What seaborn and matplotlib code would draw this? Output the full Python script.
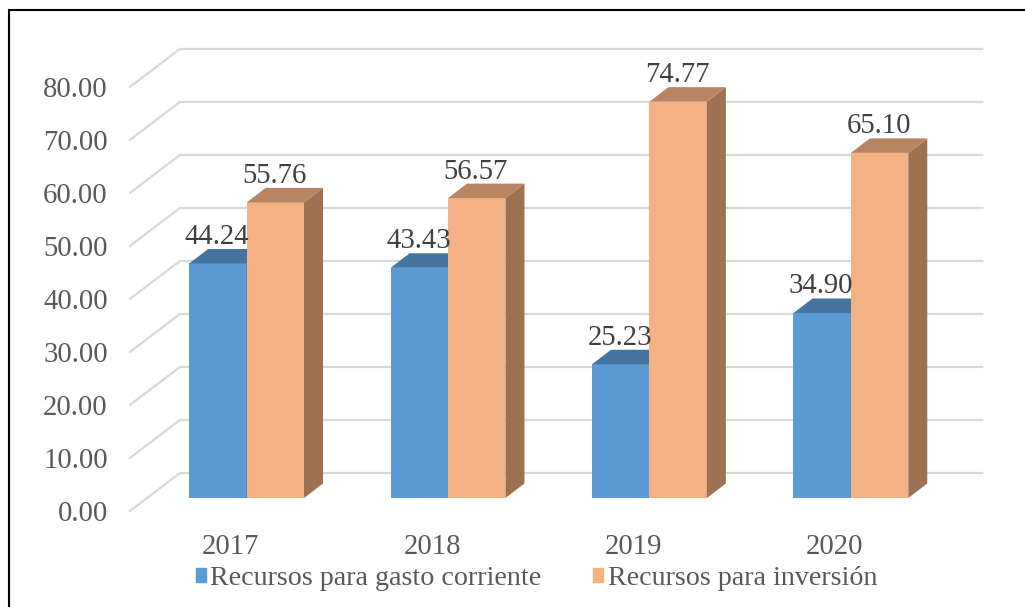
import pandas as pd
import matplotlib.pyplot as plt
import matplotlib.transforms as mtransforms
from matplotlib.patches import Polygon, Rectangle, Patch
from matplotlib.lines import Line2D
import seaborn as sns

# data
years = ['2017', '2018', '2019', '2020']
gasto_corriente = [44.24, 43.43, 25.23, 34.90]
inversion = [55.76, 56.57, 74.77, 65.10]
series = ['Recursos para gasto corriente', 'Recursos para inversión']
y_ticks = [0, 10, 20, 30, 40, 50, 60, 70, 80]

front_colors = ['#5B9BD5', '#F4B183']
top_colors = ['#44749F', '#B98462']
side_colors = ['#3F6C94', '#9C7252']

# fake 3d offsets, in pixels
DEPTH = (19, 14.5)
FLOOR_FRONT = (-17, -13)
WALL = (33, 25)
FS = 20.7

sns.set_theme(style='white')
plt.rcParams['font.family'] = ['Liberation Serif', 'DejaVu Serif']

df = pd.DataFrame({
    'year': years * 2,
    'value': gasto_corriente + inversion,
    'serie': [series[0]] * len(years) + [series[1]] * len(years),
})

fig = plt.figure(figsize=(10.25, 6.07), dpi=100)
ax = fig.add_axes([130 / 1025, 1 - 520 / 607, 853 / 1025, 480 / 607])
sns.barplot(data=df, x='year', y='value', hue='serie', palette=front_colors,
            width=0.57, saturation=1, linewidth=0, legend=False,
            errorbar=None, ax=ax)
ax.set_xlim(-0.579, 3.656)
ax.set_ylim(-4.15, 86.4)
sns.despine(ax=ax, left=True, bottom=True)
ax.set_xlabel('')
ax.set_ylabel('')

# perspective grid: floor edge + back wall
ident = mtransforms.IdentityTransform()
for v in y_ticks:
    bx, by = ax.transData.transform((-0.495, v))
    ex, _ = ax.transData.transform((3.49, v))
    xs = [bx + FLOOR_FRONT[0], bx + WALL[0], ex + WALL[0]]
    ys = [by + FLOOR_FRONT[1], by + WALL[1], by + WALL[1]]
    ax.add_artist(Line2D(xs, ys, transform=ident, color='#D9D9D9',
                         lw=1.6, zorder=0, clip_on=False))

# side and top faces of each bar
dx, dy = DEPTH
for i, cont in enumerate(ax.containers):
    for bar in cont:
        x, w, h = bar.get_x(), bar.get_width(), bar.get_height()
        l, b = ax.transData.transform((x, 0))
        r, t = ax.transData.transform((x + w, h))
        bar.set_zorder(2 + 2 * i)
        side = Polygon([(r, b), (r + dx, b + dy), (r + dx, t + dy), (r, t)],
                       closed=True, transform=ident, fc=side_colors[i],
                       ec='none', zorder=3 + 2 * i)
        top = Polygon([(l, t), (l + dx, t + dy), (r + dx, t + dy), (r, t)],
                      closed=True, transform=ident, fc=top_colors[i],
                      ec='none', zorder=3 + 2 * i)
        ax.add_artist(side)
        ax.add_artist(top)
        ax.annotate(f'{h:.2f}', xy=(x + w / 2, h), xytext=(-1, dy + 5),
                    textcoords='offset pixels', ha='center', va='baseline',
                    fontsize=FS, color='#404040', zorder=8)

ax.set_yticks(y_ticks, [f'{v:.2f}' for v in y_ticks])
ax.tick_params(axis='y', length=0, pad=16, labelsize=FS, labelcolor='#595959')
ax.tick_params(axis='x', length=0, pad=10, labelsize=FS, labelcolor='#595959')
for lab in ax.get_yticklabels():
    lab.set_transform(lab.get_transform() +
                      mtransforms.ScaledTranslation(0, -13 / 100, fig.dpi_scale_trans))
for lab in ax.get_xticklabels():
    lab.set_transform(lab.get_transform() +
                      mtransforms.ScaledTranslation(-16 / 100, 0, fig.dpi_scale_trans))

handles = [Patch(color=c) for c in front_colors]
fig.legend(handles, series, loc='center', bbox_to_anchor=(0.5234, 0.0470),
           ncol=2, frameon=False, fontsize=20.2, handlelength=0.36,
           handleheight=0.36, handletextpad=0.15, columnspacing=1.85,
           labelcolor='#595959')

# outer frame (right and bottom edges fall outside the picture)
fig.add_artist(Rectangle((9 / 1025, -0.05), 1.1, 1 - 10 / 607 + 0.05,
                         transform=fig.transFigure, fill=False,
                         ec='black', lw=1.5))

fig.savefig('out.png', dpi=100, facecolor='white')
